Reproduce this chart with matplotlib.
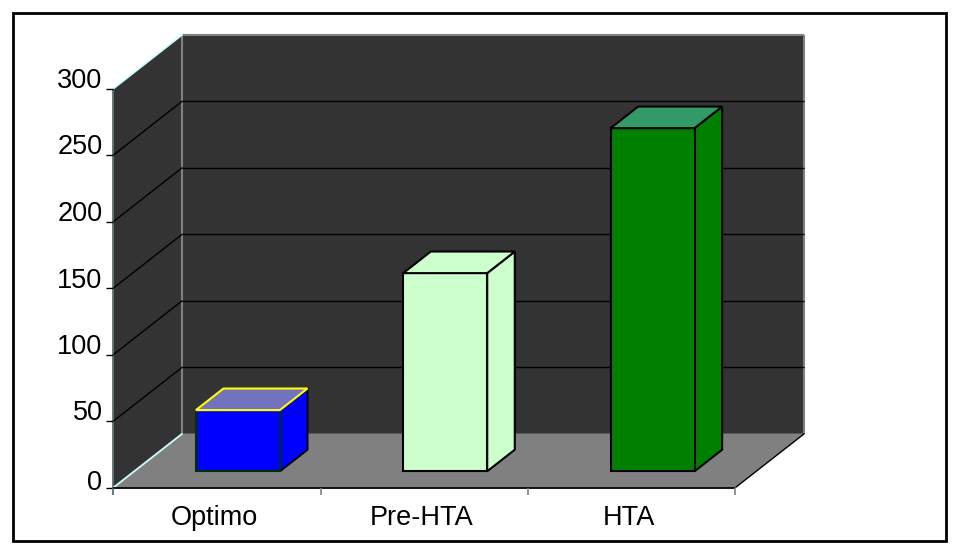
import matplotlib
matplotlib.use("Agg")
import matplotlib.pyplot as plt
from matplotlib.patches import Polygon, Rectangle

# Chart data
categories = ["Optimo", "Pre-HTA", "HTA"]
values = [46, 149, 258]
value_ticks = [0, 50, 100, 150, 200, 250, 300]
front_colors = ["#0000ff", "#ccffcc", "#008000"]
top_colors = ["#7272bf", "#ccffcc", "#339966"]
edge_colors = ["#003300", "#000000", "#000000"]
top_edge_colors = ["#ffff00", "#000000", "#000000"]

W, H = 958, 554
X0, X1 = 113.5, 735.5
Y0, Y300 = 487.5, 88.5
DX, DY = 69, -54
VMAX = 300
BAR_FRAC = 0.405     # bar width as share of one category slot
BAR_D0, BAR_D1 = 0.30, 0.70   # front/back of the bars in depth units


def project(cat, val, depth=0.0):
    """Category slot position, value and depth (0-1) to figure pixels."""
    x = X0 + (X1 - X0) * cat / len(categories) + DX * depth
    y = Y0 + (Y300 - Y0) * val / VMAX + DY * depth
    return x, y


def poly(ax, pts, fc, ec="none", lw=0, z=1):
    ax.add_patch(Polygon(pts, closed=True, facecolor=fc, edgecolor=ec, linewidth=lw,
                         zorder=z, joinstyle="miter"))


fig = plt.figure(figsize=(W / 100, H / 100), dpi=100)
ax = fig.add_axes([0, 0, 1, 1])
ax.set_xlim(0, W)
ax.set_ylim(H, 0)
ax.axis("off")
plt.rcParams["font.family"] = ["Liberation Sans"]

# Outer frame
ax.add_patch(Rectangle((13, 13), 933, 528, facecolor="white", edgecolor="black", linewidth=2, zorder=0))

n = len(categories)

# Walls and floor
wall_grey = "#333333"
poly(ax, [project(0, 0), project(0, 0, 1), project(0, VMAX, 1), project(0, VMAX)], wall_grey, z=1)
poly(ax, [project(0, 0, 1), project(n, 0, 1), project(n, VMAX, 1), project(0, VMAX, 1)], wall_grey, z=1)
poly(ax, [project(0, 0), project(n, 0), project(n, 0, 1), project(0, 0, 1)], "#808080", z=1)

# Wall borders
def seg(a, b, color, lw=1.0, z=3):
    ax.plot([a[0], b[0]], [a[1], b[1]], color=color, linewidth=lw, zorder=z, solid_capstyle="butt")

seg(project(0, VMAX, 1), project(n, VMAX, 1), "#808080", 1.5)
seg(project(n, VMAX, 1), project(n, 0, 1), "#808080", 1.5)
seg(project(0, 0, 1), project(0, VMAX, 1), "#808080", 1.5)
seg(project(0, 0), project(0, VMAX), "#4d6666", 1.2)
seg(project(0, VMAX), project(0, VMAX, 1), "#ccffff", 1.3)
seg(project(0, 0), project(0, 0, 1), "#ccffff", 1.3)
seg(project(n, 0), project(n, 0, 1), "#000000", 1.0)

# Gridlines across both walls
for t in value_ticks[1:-1]:
    seg(project(0, t), project(0, t, 1), "black", 1.0)
    seg(project(0, t, 1), project(n, t, 1), "black", 1.0)

# Axes and ticks
seg(project(0, 0), project(n, 0), "black", 1.3, z=4)
for t in value_ticks:
    x, y = project(0, t)
    seg((x - 7, y), (x, y), "black", 1.0, z=4)
    ax.text(x - 11, y - 7.5 if t else y - 5, str(t), ha="right", va="center", fontsize=19.5, color="black", zorder=5)
for i in range(n + 1):
    x, y = project(i, 0)
    seg((x, y), (x, y + 7), "#808080" if i else "#4d6666", 1.2, z=4)

# Bars
for i, (cat, val) in enumerate(zip(categories, values)):
    c0 = i + 0.5 - BAR_FRAC / 2
    c1 = i + 0.5 + BAR_FRAC / 2
    fa = project(c0, 0, BAR_D0)
    fb = project(c1, 0, BAR_D0)
    fc_ = project(c1, val, BAR_D0)
    fd = project(c0, val, BAR_D0)
    ba = project(c1, 0, BAR_D1)
    bb = project(c1, val, BAR_D1)
    bc = project(c0, val, BAR_D1)
    ec = edge_colors[i]
    tc = top_edge_colors[i]
    poly(ax, [fb, ba, bb, fc_], front_colors[i], "black", 1.5, z=6)
    poly(ax, [fa, fb, fc_, fd], front_colors[i], ec, 1.5, z=7)
    poly(ax, [fd, fc_, bb, bc], top_colors[i], tc, 1.5, z=8)
    x, y = project(i + 0.5, 0)
    ax.text(x - 3, 518, cat, ha="center", va="center", fontsize=19.5, color="black", zorder=5)

fig.savefig("out.png", dpi=100)
